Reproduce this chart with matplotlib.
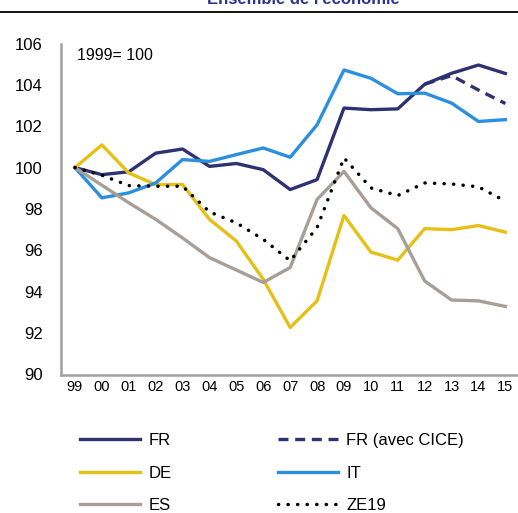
import matplotlib
matplotlib.use("Agg")
import matplotlib.pyplot as plt
from matplotlib.lines import Line2D

plt.rcParams['font.family'] = ['Liberation Sans', 'DejaVu Sans']

# données (indice 1999 = 100)
annees = ['99', '00', '01', '02', '03', '04', '05', '06', '07', '08',
          '09', '10', '11', '12', '13', '14', '15']
fr = [100, 99.66, 99.8, 100.7, 100.9, 100.06, 100.2, 99.9, 98.94, 99.42,
      102.88, 102.8, 102.84, 104.03, 104.56, 104.96, 104.55]
fr_cice_annees = ['12', '13', '14', '15']
fr_cice = [104.03, 104.45, 103.75, 103.1]
de = [100, 101.1, 99.74, 99.18, 99.18, 97.5, 96.45, 94.6, 92.27, 93.56,
      97.69, 95.92, 95.53, 97.05, 97.0, 97.2, 96.88]
it = [100, 98.54, 98.78, 99.26, 100.39, 100.3, 100.63, 100.95, 100.5, 102.07,
      104.72, 104.32, 103.57, 103.6, 103.12, 102.23, 102.32]
es = [100, 99.15, 98.3, 97.5, 96.6, 95.65, 95.05, 94.45, 95.17, 98.46,
      99.82, 98.06, 97.05, 94.52, 93.6, 93.56, 93.29]
ze19 = [100, 99.63, 99.13, 99.1, 99.1, 97.86, 97.33, 96.53, 95.5, 97.1,
        100.47, 99.02, 98.65, 99.26, 99.21, 99.07, 98.38]

W, H = 518, 513
fig = plt.figure(figsize=(W / 100, H / 100), dpi=100)

# titre coupé en haut + filet noir
fig.text(303 / W, 1 - 4 / H, "Ensemble de l'économie", ha='center', va='baseline',
         fontsize=12, fontweight='bold', color='#2e3192')
fig.add_artist(Line2D([0, 1], [1 - 12.3 / H, 1 - 12.3 / H], color='black', lw=1.3))

ax = fig.add_axes([61 / W, 1 - 374.5 / H, (W - 61) / W, (374.5 - 43.5) / H])

x = list(range(len(annees)))
x_cice = [annees.index(a) for a in fr_cice_annees]

l_fr, = ax.plot(x, fr, color='#2e3270', lw=2.4, label='FR')
l_cice, = ax.plot(x_cice, fr_cice, color='#2e3270', lw=2.4, ls=(0, (3, 2)),
                  label='FR (avec CICE)')
l_de, = ax.plot(x, de, color='#e6bf17', lw=2.4, label='DE')
l_it, = ax.plot(x, it, color='#2b8fe0', lw=2.4, label='IT')
l_es, = ax.plot(x, es, color='#a79e98', lw=2.4, label='ES')
l_ze, = ax.plot(x, ze19, color='black', lw=2.5, ls=(0, (0.05, 2.7)),
                dash_capstyle='round', label='ZE19')

ax.set_xlim(-0.52, 16.47)
ax.set_ylim(90, 106)
ax.set_yticks(range(90, 107, 2))
ax.set_xticks(x)
ax.set_xticklabels(annees)
ax.tick_params(axis='y', length=0, pad=13, labelsize=12)
ax.tick_params(axis='x', length=0, pad=4, labelsize=10.5)

for s in ['top', 'right']:
    ax.spines[s].set_visible(False)
for s in ['left', 'bottom']:
    ax.spines[s].set_color('#a0a0a0')
    ax.spines[s].set_linewidth(1.8)

ax.text(0.08, 105.4, '1999= 100', fontsize=11.5, va='center', ha='left')

fig.legend([l_fr, l_de, l_es, l_cice, l_it, l_ze],
           ['FR', 'DE', 'ES', 'FR (avec CICE)', 'IT', 'ZE19'],
           ncol=2, loc='upper left', bbox_to_anchor=(80 / W, 1 - 433 / H),
           frameon=False, borderpad=0, borderaxespad=0, fontsize=12,
           handlelength=3.6, handletextpad=0.5, columnspacing=6.4,
           labelspacing=1.05)

fig.savefig('out.png', dpi=100)
